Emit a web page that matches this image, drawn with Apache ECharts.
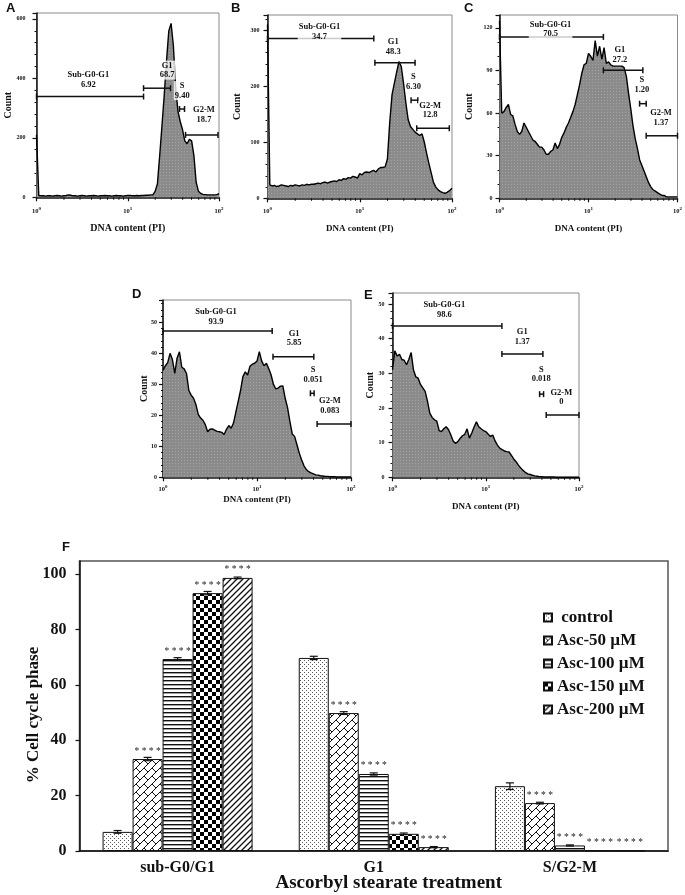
<!DOCTYPE html>
<html><head><meta charset="utf-8">
<script src="https://cdn.jsdelivr.net/npm/echarts@6/dist/echarts.min.js"></script>
<style>html,body{margin:0;padding:0;background:#fff}#c{width:685px;height:895px}</style>
</head><body><div id="c"></div><script>
// ---------- DATA ----------
// DNA content bin centres (log-spaced, 40 bins per decade), shared by all histograms
const dnaBins = [1.000,1.059,1.122,1.189,1.259,1.334,1.413,1.496,1.585,1.679,1.778,1.884,1.995,2.113,2.239,2.371,2.512,2.661,2.818,2.985,
3.162,3.350,3.548,3.758,3.981,4.217,4.467,4.732,5.012,5.309,5.623,5.957,6.310,6.683,7.079,7.499,7.943,8.414,8.913,9.441,
10.00,10.59,11.22,11.89,12.59,13.34,14.13,14.96,15.85,16.79,17.78,18.84,19.95,21.13,22.39,23.71,25.12,26.61,28.18,29.85,
31.62,33.50,35.48,37.58,39.81,42.17,44.67,47.32,50.12,53.09,56.23,59.57,63.10,66.83,70.79,74.99,79.43,84.14,89.13,94.41,100.0];
const logMinorTicks = [2,3,4,5,6,7,8,9,20,30,40,50,60,70,80,90];

const countsA = [210,6,5,5,4,5,5,4,5,6,5,4,5,6,8,7,5,5,4,5,6,5,4,5,5,6,5,4,5,5,6,5,5,4,5,6,5,5,4,5,
6,6,5,5,6,5,6,6,7,7,8,8,20,45,140,240,345,460,560,585,510,370,290,255,228,190,180,195,190,140,50,20,13,10,9,8,8,8,8,9,12];
const countsB = [310,24,22,23,21,22,24,23,22,21,23,22,24,23,22,24,23,25,24,25,25,26,27,26,28,29,27,29,30,31,30,33,32,35,34,37,36,39,38,36,
44,42,46,47,46,48,50,47,52,55,55,56,70,135,185,205,225,244,235,205,170,140,128,123,118,115,112,115,100,80,62,45,28,20,15,12,10,9,11,14,18];
const countsC = [125,60,61,64,66,59,58,52,47,45,47,53,50,47,44,41,40,38,36,36,34,31,31,33,34,39,35,38,43,46,50,53,57,61,66,73,80,88,94,95,
102,100,97,111,100,107,98,106,95,96,94,93,93,93,93,93,92,86,74,63,51,42,35,27,23,19,15,11,8,6,5,4,3,2,2,1,1,1,1,1,1];
const countsD = [34.5,36,37,40,38,33.5,38.5,40.5,35.5,35,33.5,28,26.5,25.5,23.5,20.3,19.1,18.4,17,14.7,15.5,15.6,15.2,14.8,14.7,14.5,13.8,15.5,16.7,15.8,
17.5,21,24.5,28,32.5,34,33,35.8,36.5,36.8,37.5,40.5,37.5,36,36.8,35,33,30,28.5,28.8,29.4,29.5,25.5,22.5,18,14,13.2,10.5,7.8,5.6,
3.7,2.5,1.8,1.4,1.1,0.8,0.7,0.5,0.4,0.3,0.3,0.2,0.2,0.2,0.1,0.1,0.1,0.1,0.1,0.1,0.1];
const countsE = [31,36.5,35,35.5,34,33.8,32.5,34,36,31,29,28.6,26.8,25.8,24.8,22,18.5,17.3,16.6,16.2,13.5,13.2,14,14.6,13.8,12.3,10.5,9.8,10.3,11.2,
12,12.4,14,11.3,12.8,14.5,16,14.6,14,13.5,13.2,12.5,11.8,12.2,10.5,9.3,8.4,8,7.6,7.4,7.3,6.3,5.3,4.5,3.5,2.7,2,1.4,1,0.8,
0.6,0.4,0.3,0.2,0.2,0.1,0.1,0.1,0.1,0.1,0,0,0,0,0,0,0,0,0,0,0];

// gates: [start, end, count level]
const gatesA = [[1,14.9,339],[14.9,29.4,367],[36.9,41.9,297],[43,97.5,210]];
const labelsA = [[3.7,395,'Sub-G0-G1\n6.92'],[27,428,'G1\n68.7'],[39.5,359,'S\n9.40'],[68.4,277,'G2-M\n18.7']];
const gatesB = [[1,14.2,285],[14.6,39.8,242],[36,42.6,175],[41.5,93.5,125]];
const labelsB = [[3.66,297,'Sub-G0-G1\n34.7'],[23.1,270,'G1\n48.3'],[38.2,208,'S\n6.30'],[58,157,'G2-M\n12.8']];
const gatesC = [[1,14.7,113.6],[14.7,40.8,90.1],[37.5,44.5,66.6],[44.5,100,44]];
const labelsC = [[3.75,118.8,'Sub-G0-G1\n70.5'],[22.5,101,'G1\n27.2'],[39.8,80,'S\n1.20'],[65.3,56.5,'G2-M\n1.37']];
const gatesD = [[1,14.5,47.2],[14.8,40.2,38.9],[37,40.5,27.1],[43.6,100,17.2]];
const labelsD = [[3.66,51.8,'Sub-G0-G1\n93.9'],[24.8,44.8,'G1\n5.85'],[39.5,33,'S\n0.051'],[59.6,23.1,'G2-M\n0.083']];
const gatesE = [[1,14.9,43.7],[14.9,41,35.6],[37.8,41.7,24],[44.5,100,18]];
const labelsE = [[3.6,48.3,'Sub-G0-G1\n98.6'],[24.6,40.6,'G1\n1.37'],[39.4,29.8,'S\n0.018'],[64.6,23.1,'G2-M\n0']];

// bar chart F
const phases = ['sub-G0/G1','G1','S/G2-M'];
const groups = [' control','Asc-50 µM','Asc-100 µM','Asc-150 µM','Asc-200 µM'];
const valControl = [6.9, 69.7, 23.4];
const valAsc50 = [33.2, 49.8, 17.3];
const valAsc100 = [69.3, 27.8, 2.0];
const valAsc150 = [93.1, 6.2, 0.2];
const valAsc200 = [98.6, 1.4, 0.1];
const errControl = [0.5, 0.6, 1.2];
const errAsc50 = [0.6, 0.5, 0.3];
const errAsc100 = [0.5, 0.4, 0.2];
const errAsc150 = [0.6, 0.3, 0];
const errAsc200 = [0.3, 0.2, 0];
const sigControl = ['','',''];
const sigAsc50 = ['****','****','****'];
const sigAsc100 = ['****','****','****'];
const sigAsc150 = ['****','****','****'];
const sigAsc200 = ['****','****','****'];

// ---------- PATTERNS ----------
function tile(w,h,draw){const c=document.createElement('canvas');c.width=w;c.height=h;const g=c.getContext('2d');g.fillStyle='#fff';g.fillRect(0,0,w,h);draw(g);return {image:c,repeat:'repeat'};}
const patDots = tile(4,4,g=>{g.fillStyle='#555';g.fillRect(0,0,1,1);g.fillRect(2,2,1,1);});
const patWeave = tile(8,8,g=>{g.strokeStyle='#111';g.lineWidth=1;g.beginPath();g.moveTo(-1,9);g.lineTo(9,-1);g.moveTo(0,0);g.lineTo(4,4);g.moveTo(7,-1);g.lineTo(9,1);g.stroke();});
const patHLines = tile(4,4,g=>{g.fillStyle='#111';g.fillRect(0,0,4,1.4);});
const patChecker = tile(8,8,g=>{g.fillStyle='#000';g.fillRect(0,0,4,4);g.fillRect(4,4,4,4);});
const patDiag = tile(6,6,g=>{g.strokeStyle='#111';g.lineWidth=1.3;g.beginPath();g.moveTo(-1,7);g.lineTo(7,-1);g.moveTo(-1,1);g.lineTo(1,-1);g.moveTo(5,7);g.lineTo(7,5);g.stroke();});
const patHist = (function(){const c=document.createElement('canvas');c.width=3;c.height=3;const g=c.getContext('2d');g.fillStyle='#8b8b8b';g.fillRect(0,0,3,3);g.fillStyle='#a2a2a2';g.fillRect(1,1,1,1);return {image:c,repeat:'repeat'};})();

// ---------- BUILD ----------
const SERIF = '"Liberation Serif", "DejaVu Serif", serif';
const panels = [
 {counts:countsA, gates:gatesA, labels:labelsA, ymax:620, interval:200, minorSplit:5,
  grid:{left:36.5,top:13,width:182.5,height:184.3}, xNameGap:26, xNameSize:10, xLabMargin:9, yNameGap:23, yLabMargin:11},
 {counts:countsB, gates:gatesB, labels:labelsB, ymax:327, interval:100, minorSplit:5,
  grid:{left:267.5,top:15,width:184.5,height:183.3}, xNameGap:26, xNameSize:9, xLabMargin:8, yNameGap:25, yLabMargin:8},
 {counts:countsC, gates:gatesC, labels:labelsC, ymax:129, interval:30, minorSplit:3,
  grid:{left:499.5,top:15,width:181,height:183.3}, xNameGap:26, xNameSize:9, xLabMargin:8, yNameGap:25, yLabMargin:7},
 {counts:countsD, gates:gatesD, labels:labelsD, ymax:57.2, interval:10, minorSplit:5,
  grid:{left:163,top:300,width:188,height:177.3}, xNameGap:18, xNameSize:9, xLabMargin:7, yNameGap:14, yLabMargin:6},
 {counts:countsE, gates:gatesE, labels:labelsE, ymax:53.2, interval:10, minorSplit:5,
  grid:{left:392.5,top:293,width:186.5,height:184.3}, xNameGap:25, xNameSize:9, xLabMargin:7, yNameGap:17, yLabMargin:8}
];

const grids=[], xAxes=[], yAxes=[], series=[];
panels.forEach((p,i)=>{
  grids.push(Object.assign({show:true,borderColor:'#8a8a8a',borderWidth:1,backgroundColor:'#fff'},p.grid));
  xAxes.push({gridIndex:i,type:'log',logBase:10,min:1,max:100,
    name:'DNA content (PI)',nameLocation:'middle',nameGap:p.xNameGap,nameMoveOverlap:false,
    nameTextStyle:{fontFamily:SERIF,fontWeight:'bold',fontSize:p.xNameSize,color:'#111'},
    axisLine:{lineStyle:{color:'#111',width:1.5}},axisTick:{length:4,lineStyle:{color:'#111',width:1.2}},
    splitLine:{show:false},
    axisLabel:{margin:p.xLabMargin,formatter:v=>'{b|10}{s|'+Math.round(Math.log10(v))+'}',
      rich:{b:{fontFamily:SERIF,fontWeight:'bold',fontSize:6.5,color:'#111',verticalAlign:'bottom',lineHeight:9},
            s:{fontFamily:SERIF,fontWeight:'bold',fontSize:5,color:'#111',verticalAlign:'top',lineHeight:9}}}});
  yAxes.push({gridIndex:i,type:'value',min:0,max:p.ymax,interval:p.interval,
    name:'Count',nameLocation:'middle',nameGap:p.yNameGap,nameRotate:90,nameMoveOverlap:false,
    nameTextStyle:{fontFamily:SERIF,fontWeight:'bold',fontSize:10,color:'#111'},
    axisLine:{show:true,lineStyle:{color:'#111',width:1.5}},
    axisTick:{show:true,length:4,lineStyle:{color:'#111',width:1.2}},
    minorTick:{show:true,splitNumber:p.minorSplit,length:2,lineStyle:{color:'#111',width:1}},
    splitLine:{show:false},
    axisLabel:{margin:p.yLabMargin,showMaxLabel:false,fontFamily:SERIF,fontWeight:'bold',fontSize:6,color:'#111'}});
  series.push({type:'line',xAxisIndex:i,yAxisIndex:i,symbol:'none',smooth:false,
    data:dnaBins.map((x,k)=>[x,p.counts[k]]),
    lineStyle:{color:'#000',width:1.4},areaStyle:{color:patHist,opacity:1},z:2});
  series.push({type:'custom',xAxisIndex:i,yAxisIndex:i,z:4,
    data:logMinorTicks.map(v=>[v,0]),
    renderItem:(params,api)=>{const c=api.coord([api.value(0),0]);
      return {type:'line',shape:{x1:c[0],y1:c[1],x2:c[0],y2:c[1]+2.5},style:{stroke:'#111',lineWidth:1}};}});
  series.push({type:'custom',xAxisIndex:i,yAxisIndex:i,z:5,
    data:p.gates, encode:{x:[0,1],y:2},
    renderItem:(params,api)=>{const a=api.coord([api.value(0),api.value(2)]);const b=api.coord([api.value(1),api.value(2)]);
      const st={stroke:'#111',lineWidth:1.5};
      return {type:'group',children:[
        {type:'line',shape:{x1:a[0],y1:a[1],x2:b[0],y2:b[1]},style:st},
        {type:'line',shape:{x1:a[0],y1:a[1]-3,x2:a[0],y2:a[1]+3},style:st},
        {type:'line',shape:{x1:b[0],y1:b[1]-3,x2:b[0],y2:b[1]+3},style:st}]};}});
  series.push({type:'custom',xAxisIndex:i,yAxisIndex:i,z:6,
    data:p.labels.map(l=>[l[0],l[1]]),
    renderItem:(params,api)=>{const c=api.coord([api.value(0),api.value(1)]);
      return {type:'text',x:c[0],y:c[1],style:{text:p.labels[params.dataIndex][2],
        font:'bold 8.5px '+SERIF,fill:'#111',align:'center',verticalAlign:'middle',lineHeight:9.5,
        backgroundColor:'rgba(255,255,255,0.78)',padding:[0,1]}};}});
});

// Bar chart F
const FI = panels.length;
grids.push({left:79.5,top:561,width:588.5,height:290,show:true,borderColor:'#555',borderWidth:1.5});
xAxes.push({gridIndex:FI,type:'category',data:phases,
  name:'Ascorbyl stearate treatment',nameLocation:'middle',nameGap:23,nameMoveOverlap:false,
  nameTextStyle:{fontFamily:SERIF,fontWeight:'bold',fontSize:19,color:'#111',padding:[0,0,0,30]},
  axisLine:{lineStyle:{color:'#111',width:1.5}},axisTick:{length:4,lineStyle:{color:'#111',width:1.2}},
  axisLabel:{margin:9,fontFamily:SERIF,fontWeight:'bold',fontSize:16,color:'#111'}});
yAxes.push({gridIndex:FI,type:'value',min:0,max:104.7,interval:20,
  name:'% Cell cycle phase',nameLocation:'middle',nameGap:37,nameRotate:90,nameMoveOverlap:false,
  nameTextStyle:{fontFamily:SERIF,fontWeight:'bold',fontSize:17,color:'#111',padding:[0,18,0,0]},
  axisLine:{show:true,lineStyle:{color:'#111',width:1.5}},
  axisTick:{show:true,length:4,lineStyle:{color:'#111',width:1.2}},
  splitLine:{show:false},
  axisLabel:{margin:13,showMaxLabel:false,fontFamily:SERIF,fontWeight:'bold',fontSize:16,color:'#111'}});

const vals=[valControl,valAsc50,valAsc100,valAsc150,valAsc200];
const errs=[errControl,errAsc50,errAsc100,errAsc150,errAsc200];
const sigs=[sigControl,sigAsc50,sigAsc100,sigAsc150,sigAsc200];
const pats=[patDots,patWeave,patHLines,patChecker,patDiag];
const BARW=30;
groups.forEach((g,s)=>{
  series.push({type:'bar',name:g,xAxisIndex:FI,yAxisIndex:FI,data:vals[s],barWidth:BARW,barGap:'0%',
    itemStyle:{color:pats[s],borderColor:'#111',borderWidth:1},
    label:{show:true,position:'top',distance:3,formatter:pp=>sigs[s][pp.dataIndex].split('').join(' '),
      fontFamily:SERIF,fontSize:9.5,color:'#222'},z:2});
});
const errData=[];
vals.forEach((v,s)=>v.forEach((y,c)=>errData.push([c,y,errs[s][c],s])));
series.push({type:'custom',xAxisIndex:FI,yAxisIndex:FI,z:5,data:errData,
  renderItem:(params,api)=>{const c=api.value(0),y=api.value(1),e=api.value(2),s=api.value(3);
    if(!e) return null;
    const hi=api.coord([c,y+e]),lo=api.coord([c,y-e]);const x=hi[0]+(s-2)*BARW;const st={stroke:'#111',lineWidth:1.2};
    return {type:'group',children:[
      {type:'line',shape:{x1:x,y1:hi[1],x2:x,y2:lo[1]},style:st},
      {type:'line',shape:{x1:x-4,y1:hi[1],x2:x+4,y2:hi[1]},style:st},
      {type:'line',shape:{x1:x-4,y1:lo[1],x2:x+4,y2:lo[1]},style:st}]};}});

const letterStyle={font:'bold 13px "Liberation Sans", Arial, sans-serif',fill:'#111'};
const option={
  animation:false,
  backgroundColor:'#fff',
  grid:grids,xAxis:xAxes,yAxis:yAxes,series:series,
  legend:{data:groups,orient:'vertical',left:543,top:609,padding:0,itemWidth:8,itemHeight:8,itemGap:6,icon:'rect',
    textStyle:{fontFamily:SERIF,fontWeight:'bold',fontSize:17,color:'#111'}},
  graphic:[
    {type:'text',left:6,top:2,style:Object.assign({text:'A'},letterStyle)},
    {type:'text',left:231,top:2,style:Object.assign({text:'B'},letterStyle)},
    {type:'text',left:464,top:2,style:Object.assign({text:'C'},letterStyle)},
    {type:'text',left:132,top:288,style:Object.assign({text:'D'},letterStyle)},
    {type:'text',left:364,top:289,style:Object.assign({text:'E'},letterStyle)},
    {type:'text',left:62,top:541,style:Object.assign({text:'F'},letterStyle)}
  ]
};
const chart=echarts.init(document.getElementById('c'),null,{renderer:'canvas'});
chart.setOption(option);
</script></body></html>
